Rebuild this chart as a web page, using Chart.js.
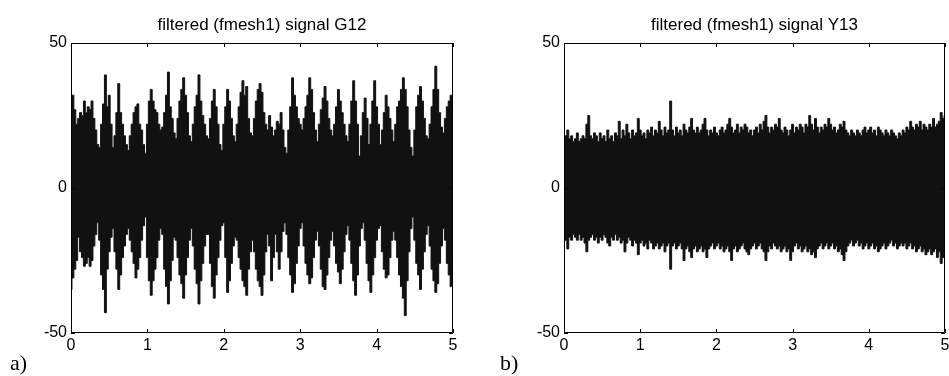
<!DOCTYPE html>
<html>
<head>
<meta charset="utf-8">
<script src="https://cdn.jsdelivr.net/npm/chart.js@4.4.1/dist/chart.umd.min.js"></script>
<style>
    html, body { margin: 0; padding: 0; background: #fff; overflow: hidden; }
    body { width: 949px; height: 376px; position: relative; }
    .panel { position: absolute; top: 0; height: 376px; }
    #panelA { left: 0; width: 475px; }
    #panelB { left: 475px; width: 500px; }
    .tag { position: absolute; font-family: 'Liberation Serif', 'Times New Roman', serif; font-size: 22px; line-height: 22px; color: #000; }
</style>
</head>
<body>
<div class="panel" id="panelA"><canvas id="chartA" width="475" height="376"></canvas></div>
<div class="panel" id="panelB"><canvas id="chartB" width="500" height="376"></canvas></div>
<div class="tag" style="left:10px; top:352px">a)</div>
<div class="tag" style="left:500px; top:352px">b)</div>
<script>
// envelope of each signal, read every 0.025 s from 0 to 5 s
const SAMPLE_DT = 0.025;
const X_TICKS = { min: 0, max: 5, step: 1 };
const Y_TICKS = { min: -50, max: 50, step: 50 };

const G12_TITLE = 'filtered (fmesh1) signal G12';
const G12_UPPER = [
    30, 32, 27, 22, 24, 26, 25, 30,
    26, 28, 27, 30, 24, 20, 15, 14,
    22, 29, 39, 28, 32, 22, 14, 18,
    26, 36, 26, 22, 18, 15, 13, 18,
    22, 26, 28, 29, 22, 20, 15, 12,
    22, 30, 34, 30, 27, 26, 22, 20,
    21, 26, 32, 40, 28, 24, 19, 17,
    24, 30, 34, 38, 32, 26, 18, 16,
    22, 28, 32, 39, 30, 25, 22, 18,
    17, 24, 30, 34, 28, 22, 15, 13,
    22, 28, 34, 30, 24, 18, 16, 22,
    28, 33, 37, 32, 35, 24, 19, 18,
    24, 30, 34, 36, 33, 26, 22, 20,
    25, 21, 18, 20, 23, 22, 26, 20,
    14, 12, 20, 28, 38, 32, 28, 24,
    22, 20, 24, 28, 32, 38, 34, 26,
    20, 16, 22, 27, 31, 35, 30, 24,
    20, 18, 22, 28, 34, 30, 26, 22,
    18, 16, 22, 30, 37, 30, 22, 11,
    18, 26, 31, 24, 15, 22, 30, 37,
    28, 22, 15, 20, 26, 32, 28, 24,
    20, 16, 22, 28, 30, 34, 38, 34,
    28, 20, 14, 11, 20, 28, 32, 35,
    30, 24, 18, 17, 22, 28, 34, 42,
    34, 26, 21, 19, 24, 28, 30, 32,
    30
];
const G12_LOWER = [
    -35, -31, -28, -25, -17, -22, -24, -27,
    -26, -24, -27, -25, -20, -16, -12, -18,
    -30, -35, -43, -28, -22, -17, -14, -22,
    -28, -35, -30, -24, -20, -16, -14, -18,
    -22, -26, -31, -28, -24, -18, -13, -10,
    -24, -32, -37, -32, -28, -24, -18, -14,
    -16, -28, -34, -40, -32, -25, -17, -18,
    -24, -30, -33, -38, -30, -24, -18, -14,
    -20, -28, -33, -40, -32, -26, -20, -16,
    -16, -26, -34, -38, -30, -24, -18, -13,
    -12, -24, -36, -32, -26, -20, -17, -18,
    -24, -28, -32, -34, -37, -28, -22, -18,
    -22, -28, -32, -34, -37, -30, -22, -16,
    -20, -32, -24, -16, -22, -28, -22, -15,
    -12, -16, -24, -30, -36, -33, -26, -20,
    -14, -12, -20, -26, -30, -33, -31, -24,
    -18, -15, -20, -28, -34, -35, -30, -24,
    -18, -15, -20, -26, -29, -33, -28, -22,
    -16, -13, -18, -26, -32, -37, -30, -20,
    -14, -12, -18, -26, -32, -36, -30, -24,
    -18, -14, -13, -22, -28, -31, -30, -24,
    -18, -15, -18, -24, -30, -34, -38, -44,
    -32, -22, -14, -10, -18, -26, -30, -35,
    -28, -22, -16, -13, -20, -28, -32, -36,
    -33, -26, -20, -14, -18, -26, -30, -34,
    -30
];

const Y13_TITLE = 'filtered (fmesh1) signal Y13';
const Y13_UPPER = [
    16, 18, 20, 17, 18, 16, 17, 19,
    16, 17, 18, 17, 22, 25, 18, 17,
    19, 18, 16, 19, 17, 18, 16, 20,
    17, 18, 16, 19, 18, 23, 17, 20,
    18, 22, 19, 17, 20, 18, 19, 24,
    20, 18, 19, 17, 20, 19, 21, 18,
    20, 19, 23, 20, 18, 21, 19, 20,
    30, 20, 18, 21, 19, 20, 18, 22,
    20, 19, 21, 24, 20, 19, 21, 19,
    20, 22, 24, 20, 18, 20, 19, 21,
    19, 18, 20, 21, 19, 20, 22, 24,
    21, 19, 20, 22, 19, 21, 20, 22,
    21, 19, 20, 18, 20, 21, 19, 22,
    20, 23, 25, 21, 19, 21, 20, 22,
    21, 24, 20, 19, 21, 20, 18, 20,
    22, 19, 21, 20, 22, 21, 19, 22,
    21, 25, 22, 20, 24, 21, 19, 21,
    20, 22, 21, 24, 22, 20, 21, 19,
    20, 22, 21, 23, 20, 19, 18, 20,
    19, 18, 20, 19, 18, 20, 21, 19,
    20, 21, 19, 20, 18, 21, 20, 19,
    18, 20, 19, 18, 20, 19, 18, 17,
    19, 18, 20, 19, 21, 20, 23, 21,
    20, 22, 21, 23, 20, 22, 21, 20,
    22, 21, 24, 21, 22, 23, 26, 24,
    25
];
const Y13_LOWER = [
    -16, -18, -21, -17, -18, -16, -17, -18,
    -16, -18, -17, -19, -22, -18, -17, -16,
    -18, -17, -19, -17, -18, -16, -17, -19,
    -20, -17, -18, -16, -18, -17, -19, -18,
    -22, -19, -17, -18, -20, -18, -19, -23,
    -19, -18, -20, -19, -21, -18, -19, -21,
    -20, -19, -21, -20, -19, -22, -20, -19,
    -28, -20, -19, -21, -20, -19, -21, -25,
    -21, -20, -22, -24, -21, -20, -22, -21,
    -20, -22, -21, -24, -21, -20, -19, -21,
    -20, -19, -21, -20, -22, -21, -20, -22,
    -25, -21, -20, -22, -21, -20, -19, -21,
    -22, -23, -21, -20, -19, -21, -20, -19,
    -21, -22, -25, -22, -20, -21, -19, -20,
    -21, -20, -22, -21, -20, -22, -21, -25,
    -22, -20, -19, -21, -20, -22, -21, -20,
    -22, -21, -23, -22, -24, -21, -20, -19,
    -21, -20, -19, -21, -20, -19, -21, -20,
    -22, -21, -23, -25, -22, -20, -19, -18,
    -20, -19, -18, -20, -19, -21, -20, -19,
    -21, -20, -19, -21, -20, -22, -21, -20,
    -19, -21, -20, -19, -18, -20, -19, -21,
    -20, -19, -20, -19, -21, -20, -19, -21,
    -20, -22, -21, -20, -22, -21, -23, -22,
    -21, -23, -22, -21, -24, -22, -26, -24,
    -22
];

const FONT = "'Liberation Sans', Arial, Helvetica, sans-serif";
const INK = '#111';
const TICK_LEN = 4;

// matlab style box with ticks pointing inwards
const boxTicks = {
    id: 'boxTicks',
    afterDraw(chart) {
        const { ctx, chartArea: area, scales: { x, y } } = chart;
        const seg = (x1, y1, x2, y2) => { ctx.moveTo(x1, y1); ctx.lineTo(x2, y2); };
        ctx.save();
        ctx.strokeStyle = '#000';
        ctx.lineWidth = 1;
        ctx.beginPath();
        ctx.rect(area.left + 0.5, area.top + 0.5, area.width - 1, area.height - 1);
        x.ticks.forEach((t) => {
            const px = Math.round(x.getPixelForValue(t.value)) + 0.5;
            seg(px, area.bottom, px, area.bottom - TICK_LEN);
            seg(px, area.top, px, area.top + TICK_LEN);
        });
        y.ticks.forEach((t) => {
            const py = Math.round(y.getPixelForValue(t.value)) + 0.5;
            seg(area.left, py, area.left + TICK_LEN, py);
            seg(area.right, py, area.right - TICK_LEN, py);
        });
        ctx.stroke();
        ctx.restore();
    },
};

function toPoints(values) {
    return values.map((v, i) => ({ x: i * SAMPLE_DT, y: v }));
}

function makeChart(canvasId, title, upper, lower, yAxisWidth, rightPad) {
    const ctx = document.getElementById(canvasId).getContext('2d');
    const tickFont = { family: FONT, size: 16 };
    const trace = { borderColor: INK, borderWidth: 1, pointRadius: 0, tension: 0, stepped: 'middle' };
    return new Chart(ctx, {
        type: 'line',
        data: {
            datasets: [
                { ...trace, data: toPoints(upper), fill: '+1', backgroundColor: INK },
                { ...trace, data: toPoints(lower), fill: false },
            ],
        },
        options: {
            responsive: false,
            animation: false,
            events: [],
            layout: { padding: { left: 0, right: rightPad, top: 0, bottom: 0 } },
            plugins: {
                legend: { display: false },
                tooltip: { enabled: false },
                title: {
                    display: true, text: title, color: '#000', fullSize: false,
                    font: { family: FONT, size: 17, weight: 'normal' },
                    padding: { top: 15, bottom: 7.6 },
                },
            },
            scales: {
                x: {
                    type: 'linear', min: X_TICKS.min, max: X_TICKS.max,
                    ticks: { stepSize: X_TICKS.step, color: '#000', font: tickFont, padding: 3, maxRotation: 0 },
                    grid: { display: false, drawTicks: false },
                    border: { display: false },
                    afterFit(scale) { scale.height = 43; },
                },
                y: {
                    min: Y_TICKS.min, max: Y_TICKS.max,
                    ticks: { stepSize: Y_TICKS.step, color: '#000', font: tickFont, padding: 4 },
                    grid: { display: false, drawTicks: false },
                    border: { display: false },
                    afterFit(scale) { scale.width = yAxisWidth; },
                },
            },
        },
        plugins: [boxTicks],
    });
}

makeChart('chartA', G12_TITLE, G12_UPPER, G12_LOWER, 71, 22);
makeChart('chartB', Y13_TITLE, Y13_UPPER, Y13_LOWER, 89, 30);
</script>
</body>
</html>
